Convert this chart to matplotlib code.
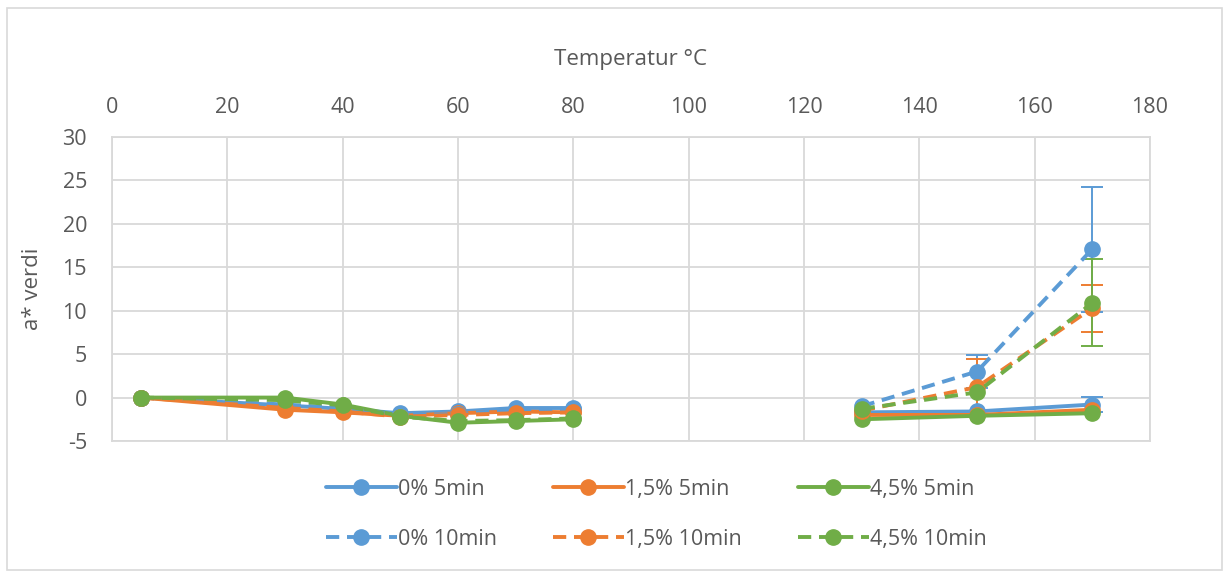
import numpy as np
import matplotlib
matplotlib.use("Agg")
import matplotlib.pyplot as plt
from matplotlib.patches import Rectangle

# ---------------- data ----------------
temperatures = [5, 30, 40, 50, 60, 70, 80, 130, 150, 170]

series_labels = ["0% 5min", "1,5% 5min", "4,5% 5min",
                 "0% 10min", "1,5% 10min", "4,5% 10min"]

a0_5 = [0.0, -0.9, -1.3, -1.8, -1.6, -1.2, -1.2, -1.7, -1.6, -0.8]
a15_5 = [0.0, -1.4, -1.7, -2.1, -1.8, -1.6, -1.7, -2.0, -2.0, -1.4]
a45_5 = [0.0, 0.0, -0.8, -2.1, -2.9, -2.7, -2.5, -2.5, -2.1, -1.8]
a0_10 = [0.0, -0.8, -1.2, -2.0, -1.9, -1.4, -1.3, -1.0, 3.0, 17.1]
a15_10 = [0.0, -1.2, -1.6, -2.2, -2.0, -1.8, -1.7, -1.5, 1.2, 10.3]
a45_10 = [0.0, -0.3, -0.9, -2.2, -2.7, -2.6, -2.4, -1.3, 0.6, 10.9]

err0_5 = [0, 0, 0, 0, 0, 0, 0, 0, 0, 0.9]
err15_5 = [0] * 10
err45_5 = [0] * 10
err0_10 = [0, 0, 0, 0, 0, 0, 0, 0, 1.9, 7.2]
err15_10 = [0, 0, 0, 0, 0, 0, 0, 0, 3.2, 2.7]
err45_10 = [0, 0, 0, 0, 0, 0, 0, 0, 0, 5.0]

values = [a0_5, a15_5, a45_5, a0_10, a15_10, a45_10]
errors = [err0_5, err15_5, err45_5, err0_10, err15_10, err45_10]

# ---------------- style ----------------
blue, orange, green = "#5B9BD5", "#ED7D31", "#70AD47"
colors = [blue, orange, green, blue, orange, green]
dashed = [False, False, False, True, True, True]
text_col = "#595959"
grid_col = "#D9D9D9"

plt.rcParams["font.family"] = ["Open Sans", "DejaVu Sans"]
plt.rcParams["axes.unicode_minus"] = False

fig = plt.figure(figsize=(12.29, 5.76), dpi=100)
ax = fig.add_axes([112 / 1229, 1 - 441 / 576, (1150 - 112) / 1229, (441 - 137) / 576])

temps = np.array(temperatures, dtype=float)
breaks = np.where(np.diff(temps) > 30)[0] + 1
segments = np.split(np.arange(len(temps)), breaks)

handles = {}
for i, (vals, errs) in enumerate(zip(values, errors)):
    v = np.array(vals, dtype=float)
    e = np.array(errs, dtype=float)
    ls = (0, (3.4, 2.0)) if dashed[i] else "-"
    z = 3 + i
    mask = e > 0
    if mask.any():
        ax.errorbar(temps[mask], v[mask], yerr=e[mask], fmt="none",
                    ecolor=colors[i], elinewidth=1.4, capsize=8, capthick=1.4,
                    zorder=2)
    for seg in segments:
        line, = ax.plot(temps[seg], v[seg], color=colors[i], linestyle=ls,
                        lw=2.8, marker="o", markersize=11,
                        solid_capstyle="round", dash_capstyle="butt",
                        zorder=z)
    handles[i] = line

ax.set_xlim(0, 180)
ax.set_ylim(-5, 30)
ax.set_xticks(np.arange(0, 181, 20))
ax.set_yticks(np.arange(-5, 31, 5))
ax.xaxis.tick_top()
ax.xaxis.set_label_position("top")
ax.tick_params(axis="both", length=0, labelsize=15.5, colors=text_col)
ax.tick_params(axis="x", pad=14)
ax.tick_params(axis="y", pad=18)
ax.set_xlabel("Temperatur °C", fontsize=16, color=text_col, labelpad=23)
ax.set_ylabel("a* verdi", fontsize=16, color=text_col, labelpad=14)
ax.grid(True, color=grid_col, lw=1.3)
ax.set_axisbelow(True)
for s in ax.spines.values():
    s.set_color(grid_col)
    s.set_linewidth(1.3)

order = [0, 3, 1, 4, 2, 5]
leg = fig.legend([handles[k] for k in order], [series_labels[k] for k in order],
                 ncol=3, loc="center", bbox_to_anchor=(0.534, 0.107),
                 frameon=False, fontsize=15.5, handlelength=3.3,
                 columnspacing=2.6, labelspacing=1.35, handletextpad=0.05)
for t in leg.get_texts():
    t.set_color(text_col)

fig.patches.append(Rectangle((7 / 1229, 6 / 576), 1215 / 1229, 562 / 576,
                             transform=fig.transFigure, fill=False,
                             edgecolor=grid_col, lw=1.2))

fig.savefig("out.png", dpi=100)
